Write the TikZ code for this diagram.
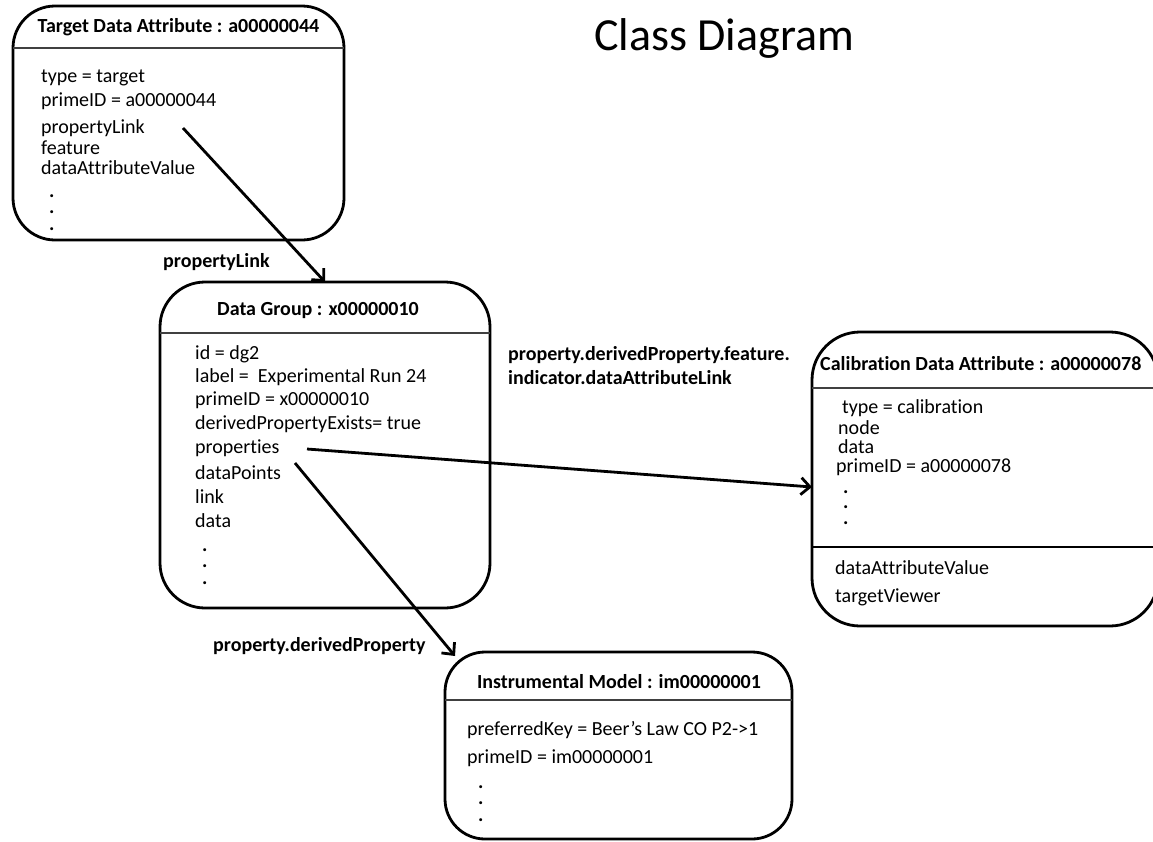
\documentclass[tikz,border=0pt]{standalone}
\usepackage{fontspec}
\setmainfont{Carlito}[Ligatures={NoCommon}]
\usetikzlibrary{arrows.meta}
\begin{document}
\begin{tikzpicture}[x=1pt,y=-1pt,
  classbox/.style={draw, line width=2.8pt, rounded corners=#1, inner sep=0pt, outer sep=0pt},
  divider/.style={draw=black!75, line width=1.3pt},
  divider2/.style={draw=black, line width=2.2pt},
  txt/.style={anchor=west, inner sep=0pt, font=\fontsize{20}{24}\selectfont},
  dots/.style={anchor=north west, inner sep=0pt, align=left, font=\fontsize{20}{16.5}\selectfont\bfseries},
  ttl/.style={inner sep=0pt, font=\fontsize{20}{24}\selectfont\bfseries},
  lbl/.style={anchor=west, inner sep=0pt, align=left, font=\fontsize{20}{24}\selectfont\bfseries},
  link/.style={line width=2.8pt, -{Straight Barb[length=9pt,width=17pt]}}]
\useasboundingbox (0,0) rectangle (1153,841);

% heading
\node[inner sep=0pt, font=\fontsize{46}{52}\selectfont] (heading) at (724,38) {Class Diagram};

% Target Data Attribute
\node[classbox=42pt, minimum width=331pt, minimum height=234pt] (tda) at (178.5,123) {};
\draw[divider] ([yshift=-42pt]tda.north west) -- ([yshift=-42pt]tda.north east);
\node[ttl] (tda-t) at (178.5,27) {Target Data Attribute : a00000044};
\node[txt] (tda-1) at (41,78) {type = target};
\node[txt] (tda-2) at (41,101) {primeID = a00000044};
\node[txt] (tda-3) at (41,128) {propertyLink};
\node[txt] (tda-4) at (41,148) {feature};
\node[txt] (tda-5) at (41,168) {dataAttributeValue};
\node[dots] (tda-d) at (49,194) {.\\.\\.};

% Data Group
\node[classbox=45pt, minimum width=330pt, minimum height=326pt] (dg) at (325,445) {};
\draw[divider] ([yshift=-51pt]dg.north west) -- ([yshift=-51pt]dg.north east);
\node[ttl] (dg-t) at (318,311) {Data Group : x00000010};
\node[txt] (dg-1) at (195,354) {id = dg2};
\node[txt] (dg-2) at (195,377) {label = ~Experimental Run 24};
\node[txt] (dg-3) at (195,400) {primeID = x00000010};
\node[txt] (dg-4) at (195,424) {derivedPropertyExists= true};
\node[txt] (dg-5) at (195,448) {properties};
\node[txt] (dg-6) at (195,473) {dataPoints};
\node[txt] (dg-7) at (195,497) {link};
\node[txt] (dg-8) at (195,521) {data};
\node[dots] (dg-d) at (202,548) {.\\.\\.};

% Calibration Data Attribute
\node[classbox=48pt, minimum width=346pt, minimum height=294pt] (cda) at (985,479) {};
\draw[divider] ([yshift=-56pt]cda.north west) -- ([yshift=-56pt]cda.north east);
\draw[divider2] ([yshift=-215pt]cda.north west) -- ([yshift=-215pt]cda.north east);
\node[ttl, anchor=west] (cda-t) at (820,364) {Calibration Data Attribute : a00000078};
\node[txt] (cda-1) at (842,408) {type = calibration};
\node[txt] (cda-2) at (838,428) {node};
\node[txt] (cda-3) at (838,447) {data};
\node[txt] (cda-4) at (836,467) {primeID = a00000078};
\node[dots, font=\fontsize{20}{15.5}\selectfont\bfseries] (cda-d) at (843,490) {.\\.\\.};
\node[txt] (cda-5) at (835,568) {dataAttributeValue};
\node[txt] (cda-6) at (835,597) {targetViewer};

% Instrumental Model
\node[classbox=40pt, minimum width=347pt, minimum height=187pt] (im) at (618.5,745.5) {};
\draw[divider] ([yshift=-48pt]im.north west) -- ([yshift=-48pt]im.north east);
\node[ttl] (im-t) at (619,682) {Instrumental Model : im00000001};
\node[txt] (im-1) at (467,730) {preferredKey = Beer’s Law CO P2->1};
\node[txt] (im-2) at (467,758) {primeID = im00000001};
\node[dots] (im-d) at (478,785) {.\\.\\.};

% association labels
\node[lbl] (l1) at (163,262) {propertyLink};
\node[lbl] (l2) at (508,366) {property.derivedProperty.feature.\\indicator.dataAttributeLink};
\node[lbl] (l3) at (213,646) {property.derivedProperty};

% association end points
\coordinate (s1) at (183,128);
\coordinate (s2) at (307,449);
\coordinate (s3) at (295,463);
\coordinate (e3) at ([shift={(10pt,-4pt)}]im.north west);

\draw[link] (s1) -- (dg.north);
\draw[link] (s2) -- ([yshift=-8pt]cda.west);
\draw[link] (s3) -- (e3);
\end{tikzpicture}
\end{document}
